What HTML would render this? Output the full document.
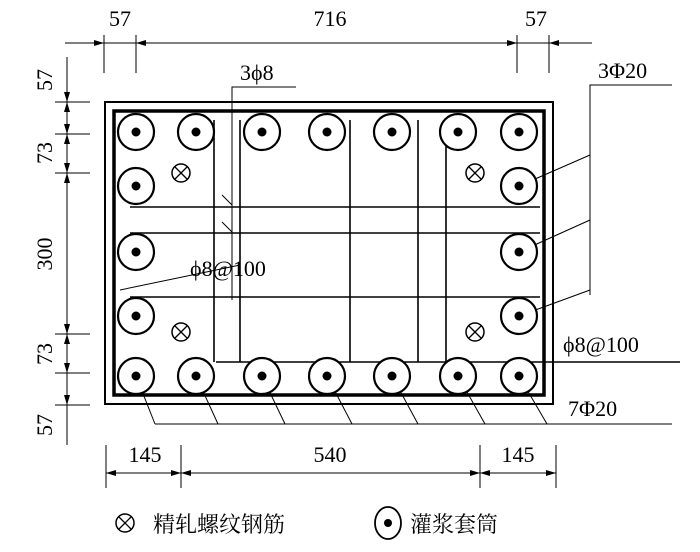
<!DOCTYPE html><html><head><style>body{margin:0;background:#fff}svg{display:block}text{font-family:"Liberation Serif","Noto Serif CJK SC",serif;fill:#000}</style></head><body>
<svg width="700" height="552" viewBox="0 0 700 552" xmlns="http://www.w3.org/2000/svg">
<defs>
<g id="s"><circle r="18" fill="#fff" stroke="#000" stroke-width="2.2"/><circle r="4.5" fill="#000"/></g>
<g id="x"><circle r="9" fill="#fff" stroke="#000" stroke-width="1.5"/><path d="M-6,-6L6,6M6,-6L-6,6" stroke="#000" stroke-width="1.3"/></g>
<marker id="a" markerWidth="10" markerHeight="6" refX="10" refY="3" orient="auto" markerUnits="userSpaceOnUse"><path d="M0,0L10,3L0,6z" fill="#000"/></marker>
</defs>
<g stroke="#000" fill="none">
<rect x="105" y="102" width="448" height="302" stroke-width="2"/>
<rect x="114" y="111" width="430" height="284" stroke-width="3.5"/>
<g stroke-width="1.6">
<line x1="130" y1="207" x2="540" y2="207"/><line x1="130" y1="233" x2="540" y2="233"/>
<line x1="130" y1="297" x2="540" y2="297"/><line x1="216" y1="362" x2="680" y2="362"/>
<line x1="214" y1="120" x2="214" y2="362"/><line x1="240" y1="120" x2="240" y2="362"/>
<line x1="350" y1="120" x2="350" y2="362"/>
<line x1="418" y1="120" x2="418" y2="362"/><line x1="446" y1="120" x2="446" y2="362"/>
</g>
<g stroke-width="1">
<polyline points="232,300 232,87 296,87"/>
<polyline points="672,85 590,85 590,295"/>
<line x1="590" y1="155" x2="519" y2="186"/><line x1="590" y1="220" x2="519" y2="252"/><line x1="590" y1="290" x2="519" y2="316"/>
<line x1="155" y1="424" x2="672" y2="424"/>
<line x1="136" y1="376" x2="155" y2="424"/><line x1="196" y1="376" x2="218" y2="424"/><line x1="262" y1="376" x2="285" y2="424"/>
<line x1="327" y1="376" x2="352" y2="424"/><line x1="392" y1="376" x2="418" y2="424"/><line x1="458" y1="376" x2="485" y2="424"/><line x1="519" y1="376" x2="547" y2="424"/>
<line x1="120" y1="290" x2="240" y2="265"/>
<line x1="222" y1="195" x2="232" y2="205"/><line x1="222" y1="222" x2="232" y2="232"/>
<!-- dims -->
<line x1="65" y1="43" x2="592" y2="43"/>
<line x1="85" y1="43" x2="104" y2="43" marker-end="url(#a)"/>
<line x1="160" y1="43" x2="136" y2="43" marker-end="url(#a)"/>
<line x1="495" y1="43" x2="517" y2="43" marker-end="url(#a)"/>
<line x1="575" y1="43" x2="549" y2="43" marker-end="url(#a)"/>
<line x1="104" y1="35" x2="104" y2="73"/><line x1="136" y1="35" x2="136" y2="73"/>
<line x1="517" y1="35" x2="517" y2="73"/><line x1="549" y1="35" x2="549" y2="73"/>
<line x1="67" y1="57" x2="67" y2="445"/>
<line x1="67" y1="85" x2="67" y2="102" marker-end="url(#a)"/>
<line x1="67" y1="118" x2="67" y2="134" marker-end="url(#a)"/>
<line x1="67" y1="118" x2="67" y2="102" marker-end="url(#a)"/>
<line x1="67" y1="150" x2="67" y2="134" marker-end="url(#a)"/>
<line x1="67" y1="155" x2="67" y2="173" marker-end="url(#a)"/>
<line x1="67" y1="190" x2="67" y2="173" marker-end="url(#a)"/>
<line x1="67" y1="318" x2="67" y2="334" marker-end="url(#a)"/>
<line x1="67" y1="354" x2="67" y2="334" marker-end="url(#a)"/>
<line x1="67" y1="354" x2="67" y2="373" marker-end="url(#a)"/>
<line x1="67" y1="390" x2="67" y2="405" marker-end="url(#a)"/>
<line x1="55" y1="102" x2="90" y2="102"/><line x1="55" y1="134" x2="90" y2="134"/><line x1="55" y1="173" x2="90" y2="173"/>
<line x1="55" y1="334" x2="90" y2="334"/><line x1="55" y1="373" x2="90" y2="373"/><line x1="55" y1="405" x2="90" y2="405"/>
<line x1="106" y1="473" x2="556" y2="473"/>
<line x1="140" y1="473" x2="106" y2="473" marker-end="url(#a)"/>
<line x1="150" y1="473" x2="181" y2="473" marker-end="url(#a)"/>
<line x1="210" y1="473" x2="181" y2="473" marker-end="url(#a)"/>
<line x1="450" y1="473" x2="480" y2="473" marker-end="url(#a)"/>
<line x1="510" y1="473" x2="480" y2="473" marker-end="url(#a)"/>
<line x1="520" y1="473" x2="556" y2="473" marker-end="url(#a)"/>
<line x1="106" y1="445" x2="106" y2="488"/><line x1="181" y1="445" x2="181" y2="488"/>
<line x1="480" y1="445" x2="480" y2="488"/><line x1="556" y1="445" x2="556" y2="488"/>
</g>
</g>
<g>
<use href="#s" x="136" y="132"/><use href="#s" x="196" y="132"/><use href="#s" x="262" y="132"/><use href="#s" x="327" y="132"/><use href="#s" x="392" y="132"/><use href="#s" x="458" y="132"/><use href="#s" x="519" y="132"/>
<use href="#s" x="136" y="376"/><use href="#s" x="196" y="376"/><use href="#s" x="262" y="376"/><use href="#s" x="327" y="376"/><use href="#s" x="392" y="376"/><use href="#s" x="458" y="376"/><use href="#s" x="519" y="376"/>
<use href="#s" x="136" y="186"/><use href="#s" x="136" y="252"/><use href="#s" x="136" y="316"/>
<use href="#s" x="519" y="186"/><use href="#s" x="519" y="252"/><use href="#s" x="519" y="316"/>
<use href="#x" x="181" y="173"/><use href="#x" x="475" y="173"/><use href="#x" x="181" y="332"/><use href="#x" x="475" y="332"/>
<use href="#x" x="125" y="523"/>
<ellipse cx="388" cy="523" rx="13" ry="16" fill="none" stroke="#000" stroke-width="1.8"/><circle cx="388" cy="523" r="4" fill="#000"/>
</g>
<g font-size="22">
<text x="120" y="26" text-anchor="middle">57</text><text x="330" y="26" text-anchor="middle">716</text><text x="536" y="26" text-anchor="middle">57</text>
<text x="240" y="80">3ϕ8</text><text x="598" y="78">3Φ20</text>
<text x="190" y="276">ϕ8@100</text><text x="563" y="352">ϕ8@100</text><text x="568" y="416">7Φ20</text>
<text x="145" y="462" text-anchor="middle">145</text><text x="330" y="462" text-anchor="middle">540</text><text x="518" y="462" text-anchor="middle">145</text>
<text transform="translate(52,80) rotate(-90)" text-anchor="middle">57</text>
<text transform="translate(52,153) rotate(-90)" text-anchor="middle">73</text>
<text transform="translate(52,254) rotate(-90)" text-anchor="middle">300</text>
<text transform="translate(52,354) rotate(-90)" text-anchor="middle">73</text>
<text transform="translate(52,425) rotate(-90)" text-anchor="middle">57</text>
<text x="153" y="532" font-family="'Noto Sans CJK SC',sans-serif">精轧螺纹钢筋</text>
<text x="410" y="532" font-family="'Noto Sans CJK SC',sans-serif">灌浆套筒</text>
</g>
</svg></body></html>
